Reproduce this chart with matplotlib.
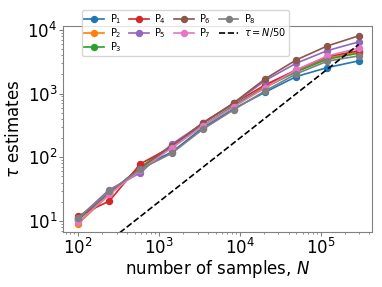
import numpy as np
import matplotlib
matplotlib.use("Agg")
import matplotlib.pyplot as plt

N = [100, 243, 590, 1433, 3480, 8450, 20500, 49900, 121000, 294000]
labels = [r"P$_1$", r"P$_2$", r"P$_3$", r"P$_4$", r"P$_5$", r"P$_6$", r"P$_7$", r"P$_8$"]
P1 = [10.5, 27, 70, 120, 290, 580, 1050, 1850, 2560, 3260]
P2 = [9.0, 26, 70, 140, 310, 640, 1300, 2300, 3600, 4500]
P3 = [10.5, 27, 70, 155, 310, 650, 1250, 2200, 3470, 4300]
P4 = [12.0, 20.5, 79, 145, 350, 700, 1370, 2350, 3800, 4700]
P5 = [11.0, 31, 57, 160, 340, 700, 1600, 3000, 4730, 6470]
P6 = [11.0, 28, 65, 150, 340, 720, 1700, 3380, 5600, 8050]
P7 = [9.5, 26, 63, 140, 310, 620, 1230, 2350, 3900, 5150]
P8 = [11.0, 29, 65, 115, 275, 560, 1100, 2040, 3230, 3900]
series = [P1, P2, P3, P4, P5, P6, P7, P8]
colors = ["#1f77b4", "#ff7f0e", "#2ca02c", "#d62728", "#9467bd", "#8c564b", "#e377c2", "#7f7f7f"]

fig = plt.figure(figsize=(3.82, 2.87), dpi=100)
ax = fig.add_axes([63/382, 1-232/287, 309/382, 206/287])

for s, lab, c in zip(series, labels, colors):
    ax.loglog(N, s, "o-", color=c, label=lab, ms=4.3, lw=1.2)
Narr = np.array(N, dtype=float)
ax.plot(Narr, Narr / 50.0, "--k", lw=1.2, label=r"$\tau = N/50$")
ax.set_ylim(6.7, 11500)
ax.set_xlim(65, 4.3e5)

ax.set_xlabel("number of samples, $N$", fontsize=12, labelpad=0)
ax.set_ylabel(r"$\tau$ estimates", fontsize=12, labelpad=3)
ax.tick_params(labelsize=12, colors="#808080", labelcolor="black", pad=1.0, length=3)
ax.tick_params(which="minor", colors="#808080", length=1.5)
for sp in ax.spines.values():
    sp.set_color("#808080")

leg = ax.legend(loc="upper left", bbox_to_anchor=(0.061, 1.078), ncol=4,
                fontsize=7, borderaxespad=0, columnspacing=0.8, borderpad=0.25,
                handlelength=2.0, handletextpad=0.6, labelspacing=0.0,
                framealpha=0.8)

fig.savefig("out.png", dpi=100)
